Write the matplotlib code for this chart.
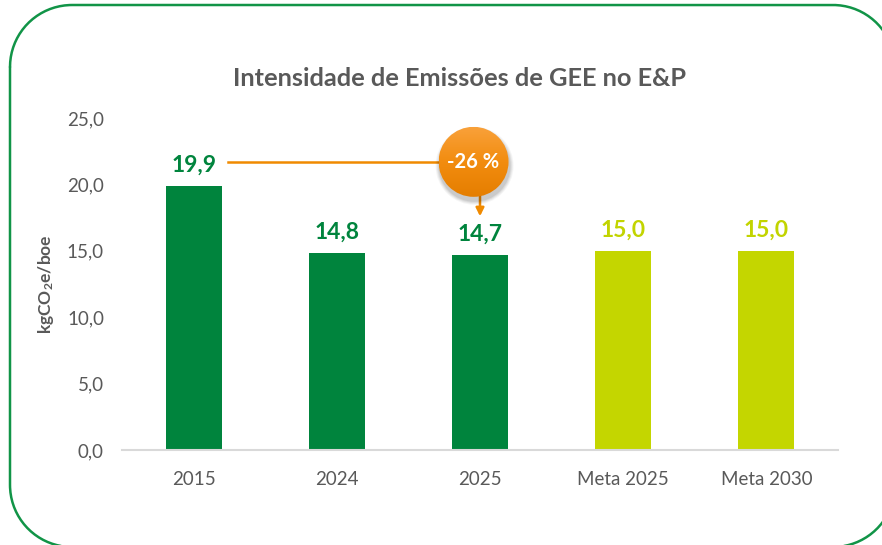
import matplotlib
matplotlib.use("Agg")
import matplotlib.pyplot as plt
import numpy as np
from matplotlib.patches import Circle
from matplotlib.colors import LinearSegmentedColormap

plt.rcParams['font.family'] = ['Lato', 'DejaVu Sans']
plt.rcParams['mathtext.default'] = 'regular'

categories = ["2015", "2024", "2025", "Meta 2025", "Meta 2030"]
values = [19.9, 14.8, 14.7, 15.0, 15.0]
value_labels = ["19,9", "14,8", "14,7", "15,0", "15,0"]
is_target = [False, False, False, True, True]
yticks = [0, 5, 10, 15, 20, 25]
ytick_labels = ["0,0", "5,0", "10,0", "15,0", "20,0", "25,0"]
reduction_label = "-26 %"
title = "Intensidade de Emissões de GEE no E&P"
ylabel = "kgCO$_2$e/boe"

DARK = "#00843D"
LIME = "#C4D600"
GREY = "#595959"
ORANGE = "#F08A00"

W, H = 882, 545
fig = plt.figure(figsize=(W / 100, H / 100), dpi=100)

# overlay in pixel coordinates
ov = fig.add_axes([0, 0, 1, 1], zorder=0)
ov.axis("off")


def rounded_rect(x0, y0, x1, y1, R, n=40):
    pts = []
    corners = [((x0 + R, y0 + R), 180, 270), ((x1 - R, y0 + R), 270, 360),
               ((x1 - R, y1 - R), 0, 90), ((x0 + R, y1 - R), 90, 180)]
    for (cx, cy), a0, a1 in corners:
        t = np.radians(np.linspace(a0, a1, n))
        pts.append(np.column_stack([cx + R * np.cos(t), cy + R * np.sin(t)]))
    pts = np.vstack(pts + [pts[0][:1]])
    return pts[:, 0], pts[:, 1]


bxs, bys = rounded_rect(10, 5, 895, 547, 62)
ov.plot(bxs, bys, color="#119447", linewidth=1.8, solid_capstyle="round")
ov.set_xlim(0, W)
ov.set_ylim(H, 0)

ax = fig.add_axes([122 / W, 1 - 450 / H, (838 - 122) / W, (450 - 118) / H], zorder=2)
ax.patch.set_alpha(0)
x = np.arange(len(categories))
colors = [LIME if t else DARK for t in is_target]
ax.bar(x, values, width=0.39, color=colors, zorder=2)
ax.set_xlim(-0.5, len(categories) - 0.5)
ax.set_ylim(0, 25)
ax.set_yticks(yticks)
ax.set_yticklabels(ytick_labels)
ax.set_xticks(x)
ax.set_xticklabels(categories)
for s in ["top", "right", "left"]:
    ax.spines[s].set_visible(False)
ax.spines["bottom"].set_color("#D9D9D9")
ax.spines["bottom"].set_linewidth(1.5)
ax.tick_params(axis="both", length=0, labelsize=13.5, colors=GREY)
ax.tick_params(axis="y", pad=13)
ax.tick_params(axis="x", pad=15)
ax.set_ylabel(ylabel, fontsize=12.5, fontweight="bold", color=GREY, labelpad=8)

for xi, v, lab, t in zip(x, values, value_labels, is_target):
    ax.annotate(lab, (xi, v), xytext=(0, 15), textcoords="offset points",
                ha="center", va="center", fontsize=16.5, fontweight="bold",
                color=("#C2D400" if t else DARK))

# reduction annotation
bx, by = 1.955, 21.7
ax.plot([0.24, bx], [by, by], color=ORANGE, linewidth=1.8, zorder=3)
ax.annotate("", xy=(2.0, 17.6), xytext=(2.0, by - 2.0),
            arrowprops=dict(arrowstyle="-|>", color=ORANGE, lw=1.8,
                            mutation_scale=12, shrinkA=0, shrinkB=0), zorder=3)

fig.canvas.draw()
px, py = ax.transData.transform((bx, by))
cx, cy = px, H - py
r = 35
ov.set_zorder(3)
for i, a in enumerate([0.04, 0.05, 0.06, 0.07]):
    ov.add_patch(Circle((cx + 1, cy + 4), r + 4 - i, color="black", alpha=a, zorder=3, lw=0))
circ = Circle((cx, cy), r, transform=ov.transData, facecolor="none", edgecolor="none")
ov.add_patch(circ)
grad = np.linspace(0, 1, 256).reshape(-1, 1)
cmap = LinearSegmentedColormap.from_list("o", ["#F9A13A", "#F28C0F", "#E57E00"])
im = ov.imshow(grad, cmap=cmap, extent=(cx - r, cx + r, cy + r, cy - r), aspect="auto", zorder=4)
im.set_clip_path(circ)
ov.set_xlim(0, W)
ov.set_ylim(H, 0)
ov.text(cx, cy, reduction_label, ha="center", va="center", color="white",
        fontsize=14.5, fontweight="bold", zorder=5)

fig.text(460 / W, 1 - 78 / H, title, ha="center", va="center", fontsize=18.3,
         fontweight="bold", color=GREY)

fig.savefig("out.png", dpi=100)
